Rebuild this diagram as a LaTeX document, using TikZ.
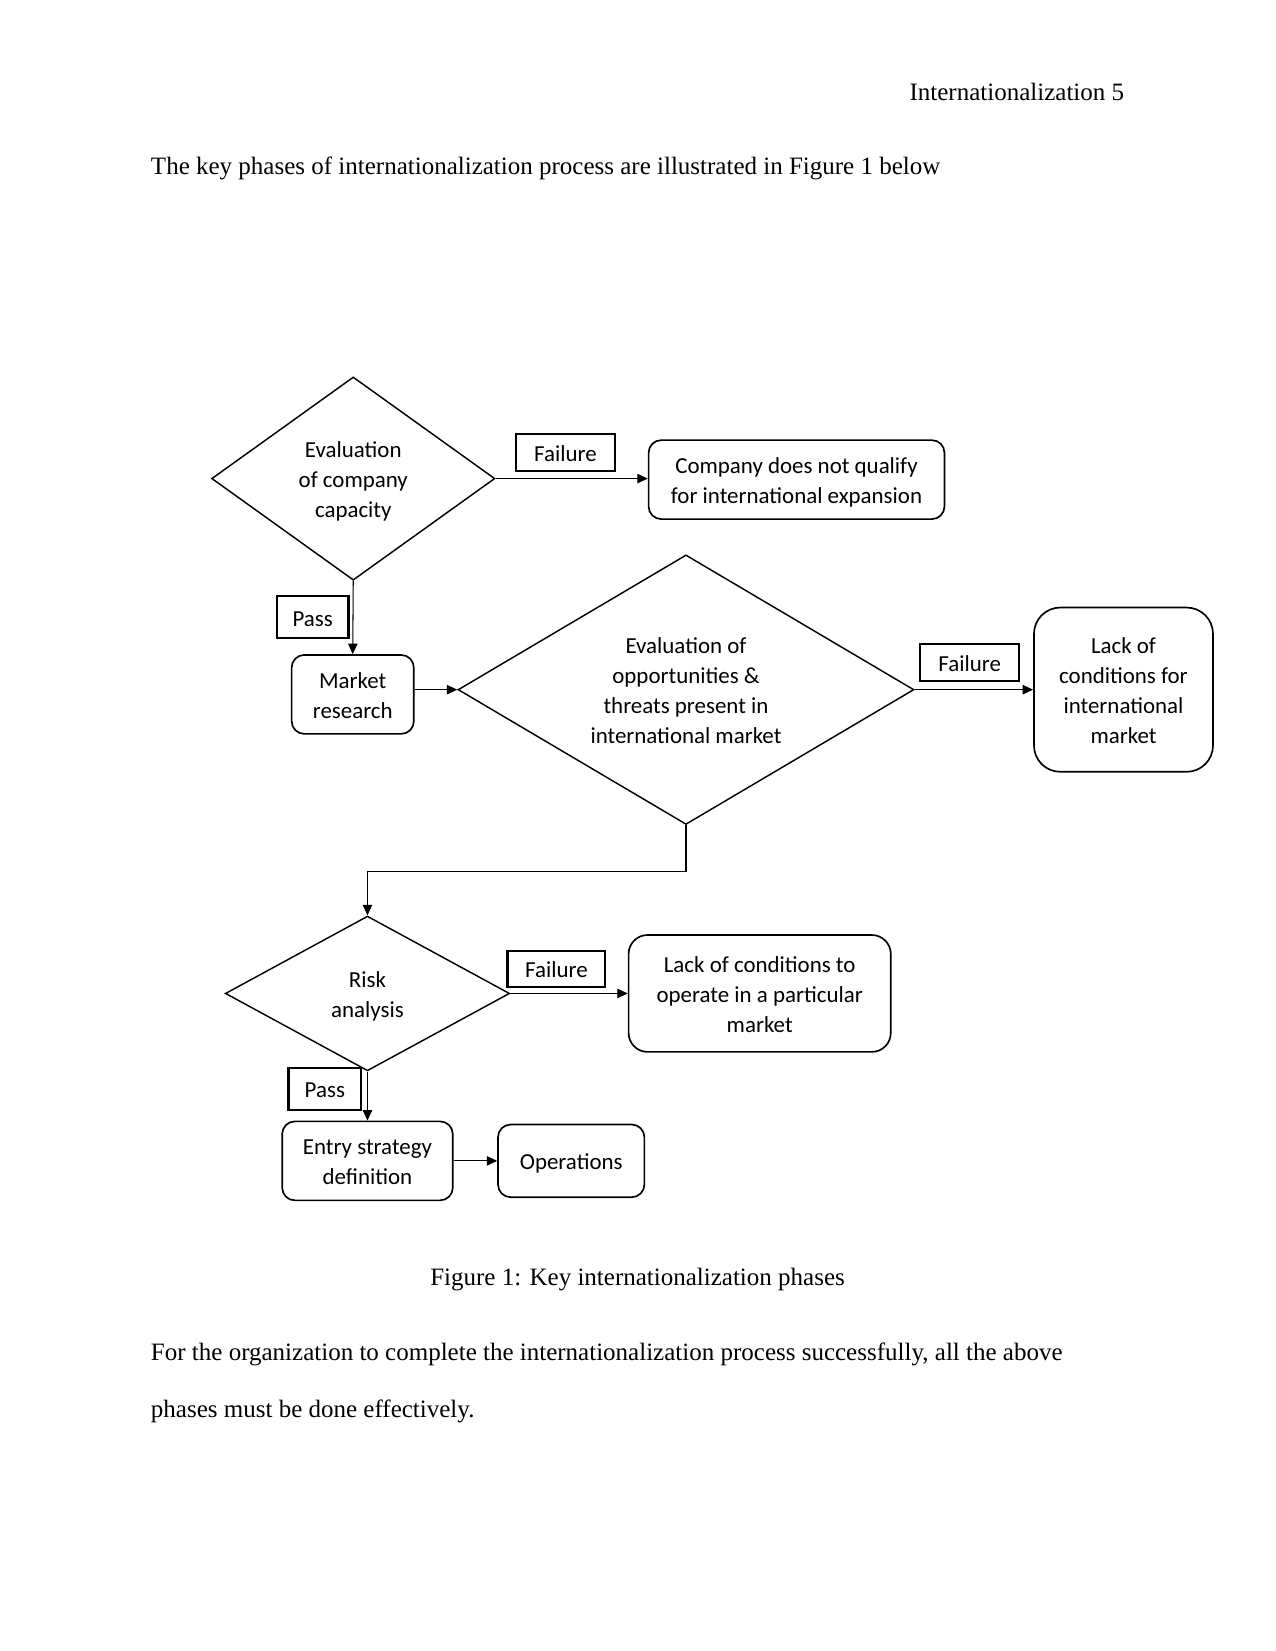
\documentclass[tikz,border=0pt]{standalone}
\usepackage{fontspec}
\setmainfont{Liberation Serif}
\newfontfamily\calfont{Carlito}
\usetikzlibrary{shapes.geometric,arrows.meta}
\newdimen\UU \UU=0.5054pt
\newcommand\dtx[1]{\raisebox{-1.5pt}[\height][\depth]{\begin{tabular}{@{}c@{}}#1\end{tabular}}}
\begin{document}
\begin{tikzpicture}[x=\UU,y=-\UU,
  dtext/.style={font=\calfont\fontsize{11pt}{14.4pt}\selectfont},
  dia/.style={diamond, draw, line width=0.7pt, inner sep=0pt, dtext},
  rbox/.style={draw, line width=0.8pt, rounded corners=12\UU, inner sep=0pt, dtext},
  lbl/.style={draw, line width=1pt, inner sep=0pt, dtext},
  conn/.style={line width=0.5pt, -{Triangle[length=5pt,width=4.5pt]}},
  body/.style={font=\fontsize{12pt}{14pt}\selectfont, inner sep=0pt}
]
\useasboundingbox (0,0) rectangle (1211,1568);
\fill[white] (0,0) rectangle (1211,1568);

% page text
\node[body, anchor=base east] (hdr) at (1068,95) {Internationalization 5};
\node[body, anchor=base west] (intro) at (143,165.5) {The key phases of internationalization process are illustrated in Figure 1 below};
\node[body, anchor=base] (cap) at (605.5,1221) {Figure 1: Key internationalization phases};
\node[body, anchor=base west] (p1) at (143,1292) {For the organization to complete the internationalization process successfully, all the above};
\node[body, anchor=base west] (p2) at (143,1346) {phases must be done effectively.};

% diamonds
\node[dia, aspect=1.39, minimum width=269\UU, minimum height=193\UU] (d1) at (335.5,454.5) {\dtx{Evaluation\\of company\\capacity}};
\node[dia, aspect=1.69, minimum width=433\UU, minimum height=256\UU] (d2) at (651.5,655) {\dtx{Evaluation of\\opportunities \&\\threats present in\\international market}};
\node[dia, aspect=1.84, minimum width=270\UU, minimum height=147\UU] (d3) at (349,943.5) {\dtx{Risk\\analysis}};

% boxes
\node[rbox, minimum width=281\UU, minimum height=75\UU] (cq) at (756.5,455.5) {\dtx{Company does not qualify\\for international expansion}};
\node[rbox, minimum width=116\UU, minimum height=75\UU] (mr) at (335,659.5) {\dtx{Market\\research}};
\node[rbox, rounded corners=25\UU, minimum width=170\UU, minimum height=156\UU] (lc1) at (1067,655) {\dtx{Lack of\\conditions for\\international\\market}};
\node[rbox, rounded corners=18\UU, minimum width=249\UU, minimum height=111\UU] (lc2) at (721.5,943.5) {\dtx{Lack of conditions to\\operate in a particular\\market}};
\node[rbox, minimum width=162\UU, minimum height=75\UU] (es) at (349,1102.5) {\dtx{Entry strategy\\definition}};
\node[rbox, minimum width=139\UU, minimum height=69\UU] (op) at (542.5,1102.5) {\dtx{Operations}};

% labels
\node[lbl, minimum width=94\UU, minimum height=35\UU] (f1) at (537,429.5) {\dtx{Failure}};
\node[lbl, minimum width=68\UU, minimum height=40\UU] (ps1) at (297,586) {\dtx{Pass}};
\node[lbl, minimum width=94\UU, minimum height=35\UU] (f2) at (921,629.5) {\dtx{Failure}};
\node[lbl, minimum width=93\UU, minimum height=34\UU] (f3) at (528.5,920) {\dtx{Failure}};
\node[lbl, minimum width=69\UU, minimum height=40\UU] (ps3) at (308.5,1034) {\dtx{Pass}};

% connectors
\draw[conn] (d1.east) -- (d1.east -| cq.west);
\draw[conn] (d1.south) -- (mr.north);
\draw[conn] (mr.east |- d2.west) -- (d2.west);
\draw[conn] (d2.east) -- (d2.east -| lc1.west);
\draw[conn] (d2.south) -- ++(0,44) -| (d3.north);
\draw[conn] (d3.east) -- (d3.east -| lc2.west);
\draw[conn] (d3.south) -- (es.north);
\draw[conn] (es.east) -- (op.west);
\end{tikzpicture}
\end{document}
